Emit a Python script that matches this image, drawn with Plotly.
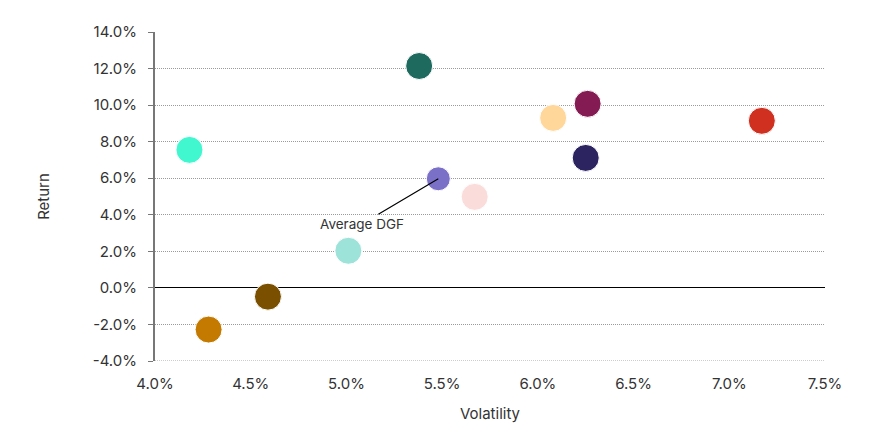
import plotly.graph_objects as go

volatility = [4.18, 4.28, 4.59, 5.01, 5.48, 5.67, 5.38, 6.08, 6.26, 6.25, 7.17]
returns = [7.55, -2.28, -0.48, 2.03, 5.97, 4.98, 12.14, 9.30, 10.07, 7.11, 9.14]
colors = ["#40F7CF", "#C47A00", "#7A5000", "#9EE3D9", "#7B70C8", "#FADDDB",
          "#1F6A5F", "#FFD79B", "#851B53", "#2C2461", "#CF3020"]
sizes = [27, 27, 27, 27, 24, 27, 27, 27, 27, 27, 27]

x_ticks = [4.0, 4.5, 5.0, 5.5, 6.0, 6.5, 7.0, 7.5]
y_ticks = [-4, -2, 0, 2, 4, 6, 8, 10, 12, 14]

fig = go.Figure()
fig.add_trace(go.Scatter(
    x=volatility, y=returns, mode="markers",
    marker=dict(color=colors, size=sizes, opacity=1,
                line=dict(color="white", width=1)),
    hoverinfo="skip", showlegend=False,
))

fig.add_annotation(
    x=5.48, y=5.97, text="Average DGF", showarrow=True, arrowhead=0,
    arrowwidth=1.2, arrowcolor="#000000", ax=-76, ay=45,
    font=dict(size=13.5, color="#333333"),
)

# dotted gridline along the bottom edge (at the lowest y tick)
fig.add_shape(type="line", xref="paper", yref="y", x0=0, x1=1,
              y0=y_ticks[0], y1=y_ticks[0],
              line=dict(color="#9a9a9a", width=1, dash="1px,1px"), layer="below")

fig.update_layout(
    width=872, height=427,
    margin=dict(l=147, r=55, t=24, b=74),
    paper_bgcolor="white", plot_bgcolor="white",
    font=dict(family="Inter, Lato, sans-serif", size=15, color="#333333"),
    xaxis=dict(
        range=[4.0, 7.5], tickvals=x_ticks,
        ticktext=[f"{v:.1f}%" for v in x_ticks],
        showgrid=False, zeroline=False, showline=False,
        title=dict(text="Volatility", standoff=16, font=dict(size=15)),
        ticks="", ticklabelstandoff=12,
    ),
    yaxis=dict(
        range=[-4, 14], tickvals=y_ticks,
        ticktext=[f"{v:.1f}%" for v in y_ticks],
        showgrid=True, gridcolor="#9a9a9a", griddash="1px,1px", gridwidth=1,
        zeroline=True, zerolinecolor="#000000", zerolinewidth=1,
        showline=True, linecolor="#777777", linewidth=2,
        ticks="outside", ticklen=5, tickcolor="#777777",
        ticklabelstandoff=8,
        title=dict(text="Return", standoff=40, font=dict(size=15)),
    ),
)

fig.write_html("out.html")
